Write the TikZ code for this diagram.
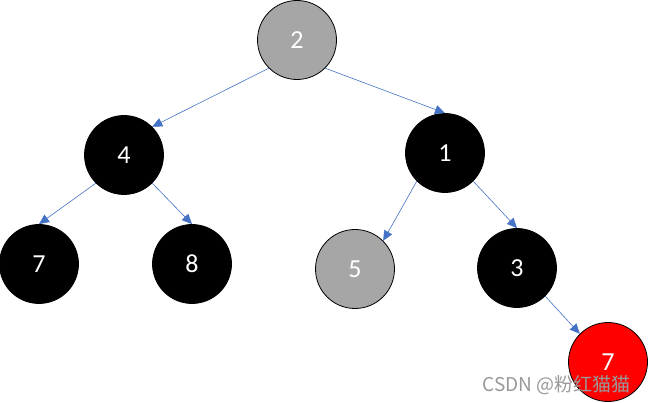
\documentclass[tikz,border=0pt]{standalone}
\usepackage{fontspec}
\setmainfont{Carlito}
\newfontfamily\cjk{Noto Sans CJK SC}
\usetikzlibrary{arrows.meta}
\definecolor{edgeblue}{HTML}{4472C4}
\definecolor{nodegray}{HTML}{A6A6A6}
\definecolor{nodered}{HTML}{FF0000}
\begin{document}
\begin{tikzpicture}[x=1pt, y=-1pt]
\tikzstyle{tnode} = [circle,draw=black,line width=0.8pt,minimum size=79pt,inner sep=0pt,text=white,font=\fontsize{26}{30}\selectfont]
\tikzstyle{blacknode} = [tnode,fill=black]
\tikzstyle{graynode} = [tnode,fill=nodegray]
\tikzstyle{rednode} = [tnode,fill=nodered]
\tikzstyle{connector} = [-{Triangle[length=10pt,width=9pt]},edgeblue,line width=0.6pt]
\useasboundingbox (0,0) rectangle (648,403);

\node[graynode](n2) at (297,40) {2};
\node[blacknode](n4) at (124,155) {4};
\node[blacknode](n1) at (445,153) {1};
\node[blacknode](n7) at (39,264) {7};
\node[blacknode](n8) at (192,264) {8};
\node[graynode](n5) at (355,269) {5};
\node[blacknode](n3) at (517,268) {3};
\node[rednode](n7r) at (608,362) {7};

\draw [connector] (n2.south west) -- (n4.north east);
\draw [connector] (n2.south east) -- (n1.north);
\draw [connector] (n4.south west) -- (n7.north);
\draw [connector] (n4.south east) -- (n8.north);
\draw [connector] (n1.south west) -- (n5.north east);
\draw [connector] (n1.south east) -- (n3.north);
\draw [connector] (n3.south east) -- (n7r.north west);

\node[anchor=east,text=black!40,font=\cjk\fontsize{19}{21}\selectfont](mark) at (634,385) {CSDN @粉红猫猫};
\end{tikzpicture}
\end{document}
